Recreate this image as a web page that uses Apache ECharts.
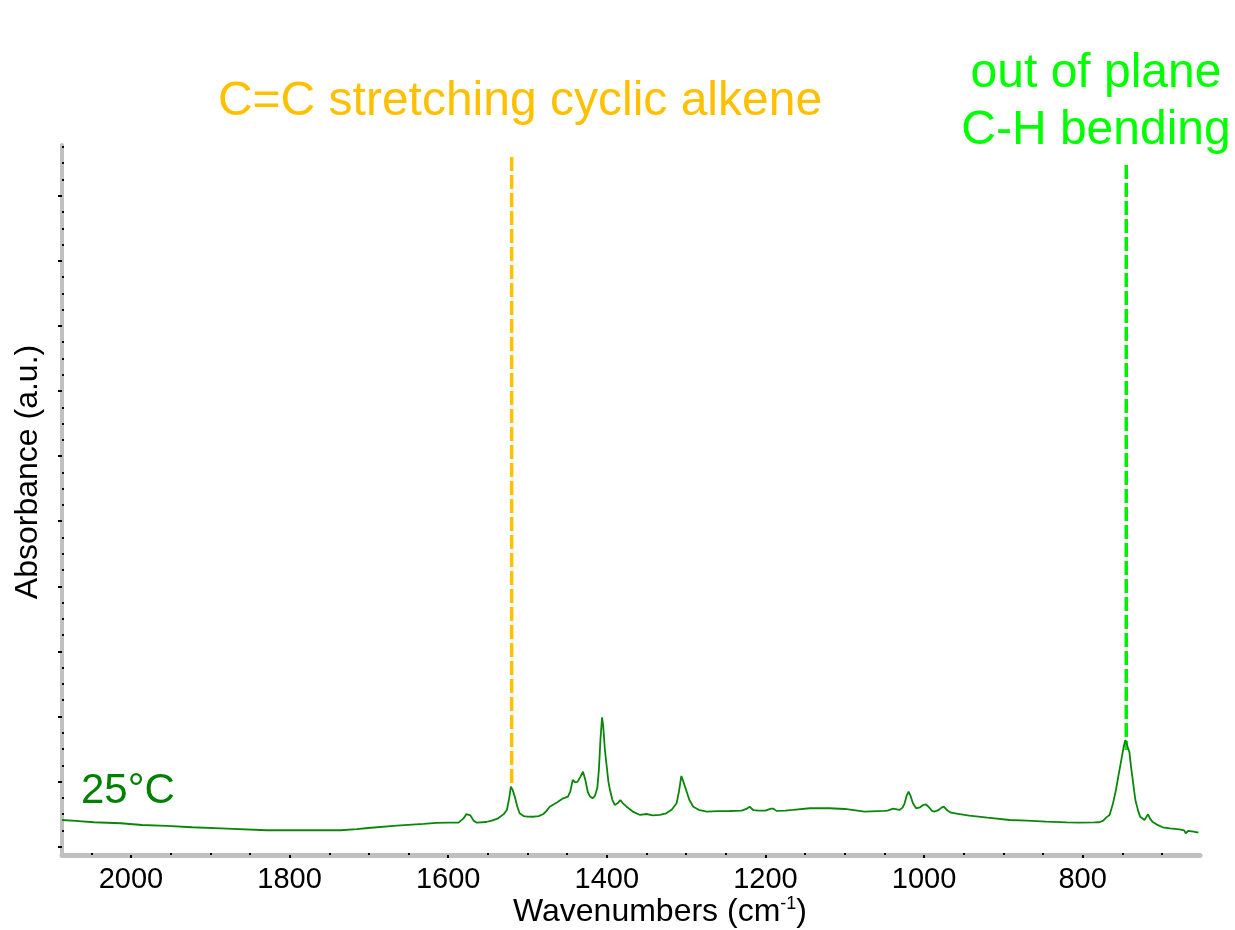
<!DOCTYPE html>
<html>
<head>
<meta charset="utf-8">
<script src="https://cdn.jsdelivr.net/npm/echarts@6/dist/echarts.min.js"></script>
<style>
html,body{margin:0;padding:0;background:#fff;}
#chart{width:1235px;height:930px;}
</style>
</head>
<body>
<div id="chart"></div>
<script>
// ---- data (wavenumber in cm-1, absorbance in arbitrary units) ----
const wavenumbers = [2087,2070,2047,2013,1986,1955,1923,1879,1829,1780,1736,1715,1701,1665,1631,1615,1600,1587,1581,1577,1575,1572,1568,1564,1552,1545,1537,1530,1526,1523,1521,1519,1516,1513,1510,1505,1500,1492,1486,1480,1476,1472,1463,1455,1449,1446,1443,1440,1437,1433,1430,1427,1424,1421,1418,1415,1412,1410,1408,1406,1404.5,1402.5,1400,1398,1396,1393,1390,1386,1383,1380,1375,1366,1358,1350,1342,1333,1325,1318,1312,1309,1306,1303,1300,1296,1291,1283,1274,1260,1245,1230,1224,1220,1215,1209,1200,1193,1190,1186,1175,1165,1144,1119,1100,1075,1050,1046,1039,1031,1027,1024.5,1022,1019.5,1017,1014,1010,1005,1001,998,994,990,987,982,978,975,971,966,955,943,920,892,870,846,820,804,785,779,774,770,766,762,758,755,752,748,746,743.5,741,739,736,733.5,730,727.5,722,719.5,717.5,715,712,705,699,690,678,672,670,667,665,660,654];
const absorbance = [0.041,0.0395,0.0375,0.036,0.0333,0.0318,0.0298,0.0276,0.0252,0.0252,0.0252,0.027,0.0287,0.0323,0.0349,0.0365,0.037,0.0369,0.043,0.050,0.0522,0.048,0.040,0.0369,0.0379,0.040,0.0436,0.050,0.0564,0.075,0.0922,0.088,0.0768,0.062,0.0513,0.047,0.0461,0.046,0.047,0.0502,0.055,0.0614,0.068,0.0743,0.0768,0.085,0.1025,0.099,0.0995,0.108,0.1152,0.102,0.084,0.077,0.0743,0.078,0.090,0.118,0.165,0.1988,0.185,0.150,0.122,0.100,0.0871,0.072,0.0641,0.067,0.0717,0.067,0.0614,0.053,0.0487,0.0502,0.0482,0.049,0.0513,0.057,0.0667,0.085,0.1086,0.098,0.0871,0.072,0.0614,0.056,0.0538,0.0545,0.0548,0.0553,0.058,0.0614,0.056,0.0553,0.0555,0.0584,0.0584,0.055,0.0555,0.0564,0.059,0.059,0.0579,0.0538,0.055,0.0553,0.0584,0.0564,0.060,0.0667,0.078,0.0845,0.078,0.0667,0.059,0.0605,0.064,0.0651,0.061,0.055,0.0538,0.056,0.060,0.0614,0.056,0.0522,0.050,0.0476,0.0445,0.041,0.040,0.0384,0.0372,0.0369,0.0372,0.0375,0.040,0.045,0.0487,0.065,0.0871,0.108,0.1281,0.155,0.1639,0.1613,0.145,0.1229,0.095,0.0717,0.055,0.0461,0.041,0.046,0.0498,0.043,0.0384,0.033,0.0298,0.028,0.0267,0.025,0.0206,0.0241,0.0241,0.023,0.0215];

// annotation lines: [wavenumber, top value, bottom value]
const ccLine = [1520, 1.0594, 0.0917];
const chLine = [745, 1.0472, 0.1485];

// tick values
const xMajorTicks = [800,1000,1200,1400,1600,1800,2000];
const xMinorTicks = [700,750,850,900,950,1050,1100,1150,1250,1300,1350,1450,1500,1550,1650,1700,1750,1850,1900,1950,2050];
const yMajorTicks = [0,0.1,0.2,0.3,0.4,0.5,0.6,0.7,0.8,0.9,1.0];
const yMinorTicks = [];
for (let i = 1; i <= 43; i++) { if (i % 4 !== 0) yMinorTicks.push(+(i * 0.025).toFixed(3)); }

const labels = {
  xTitle: 'Wavenumbers (cm{sup|-1})',
  yTitle: 'Absorbance (a.u.)',
  cc: 'C=C stretching cyclic alkene',
  ch1: 'out of plane',
  ch2: 'C-H bending',
  temp: '25°C'
};

const FONT = "'Liberation Sans', Arial, Helvetica, sans-serif";
const spectrum = wavenumbers.map((w, i) => [w, absorbance[i]]);

const chart = echarts.init(document.getElementById('chart'), null, {renderer: 'canvas'});
const xCommon = {type: 'value', min: 652, max: 2087, inverse: true, splitLine: {show: false}};
const yCommon = {type: 'value', min: -0.0128, max: 1.078, splitLine: {show: false}};

chart.setOption({
  animation: false,
  backgroundColor: '#ffffff',
  grid: {left: 62, right: 35, top: 145, bottom: 75, containLabel: false},
  xAxis: [
    Object.assign({}, xCommon, {
      position: 'bottom',
      axisLine: {show: true, onZero: false, lineStyle: {color: '#c0c0c0', width: 5}},
      axisTick: {show: true, inside: false, length: 3, customValues: xMajorTicks, lineStyle: {color: '#000', width: 2}},
      axisLabel: {show: true, customValues: xMajorTicks, margin: 10, color: '#000', fontSize: 29, fontFamily: FONT,
        formatter: v => String(v)}
    }),
    Object.assign({}, xCommon, {
      position: 'bottom',
      axisLine: {show: false, onZero: false},
      axisTick: {show: true, inside: true, length: 2, customValues: xMinorTicks, lineStyle: {color: '#000', width: 2}},
      axisLabel: {show: false}
    })
  ],
  yAxis: [
    Object.assign({}, yCommon, {
      position: 'left',
      axisLine: {show: true, onZero: false, lineStyle: {color: '#c0c0c0', width: 4}},
      axisTick: {show: true, inside: false, length: 4, customValues: yMajorTicks, lineStyle: {color: '#000', width: 2}},
      axisLabel: {show: false}
    }),
    Object.assign({}, yCommon, {
      position: 'left',
      offset: 0,
      axisLine: {show: false, onZero: false},
      axisTick: {show: true, inside: true, length: 2, customValues: yMinorTicks, lineStyle: {color: '#000', width: 2}},
      axisLabel: {show: false}
    })
  ],
  series: [
    {
      type: 'line', xAxisIndex: 0, yAxisIndex: 0,
      data: [[ccLine[0], ccLine[1]], [ccLine[0], ccLine[2]]],
      symbol: 'none', silent: true,
      lineStyle: {color: '#FFC000', width: 3.5, type: [14, 4]}
    },
    {
      type: 'line', xAxisIndex: 0, yAxisIndex: 0,
      data: [[chLine[0], chLine[1]], [chLine[0], chLine[2]]],
      symbol: 'none', silent: true,
      lineStyle: {color: '#00EE00', width: 3.5, type: [14, 4]}
    },
    {
      type: 'line', xAxisIndex: 0, yAxisIndex: 0,
      data: spectrum, symbol: 'none', smooth: false,
      lineStyle: {color: '#0a870a', width: 1.8}
    }
  ],
  graphic: [
    {type: 'text', style: {text: labels.cc, x: 520, y: 102, fill: '#FFC000', font: '48px ' + FONT, align: 'center', verticalAlign: 'middle'}},
    {type: 'text', style: {text: labels.ch1, x: 1096, y: 74, fill: '#00FF00', font: '48px ' + FONT, align: 'center', verticalAlign: 'middle'}},
    {type: 'text', style: {text: labels.ch2, x: 1096, y: 131, fill: '#00FF00', font: '48px ' + FONT, align: 'center', verticalAlign: 'middle'}},
    {type: 'text', style: {text: labels.temp, x: 81, y: 791, fill: '#008000', font: '42px ' + FONT, align: 'left', verticalAlign: 'middle'}},
    {type: 'text', style: {text: labels.xTitle, x: 660, y: 912, fill: '#000', font: '32px ' + FONT, align: 'center', verticalAlign: 'middle',
      rich: {sup: {fontSize: 18, fontFamily: FONT, verticalAlign: 'top', padding: [0, 0, 15, 0]}}}},
    {type: 'text', rotation: Math.PI / 2, x: 28, y: 472, style: {text: labels.yTitle, x: 0, y: 0, fill: '#000', font: '32px ' + FONT, align: 'center', verticalAlign: 'middle'}}
  ]
});
</script>
</body>
</html>
